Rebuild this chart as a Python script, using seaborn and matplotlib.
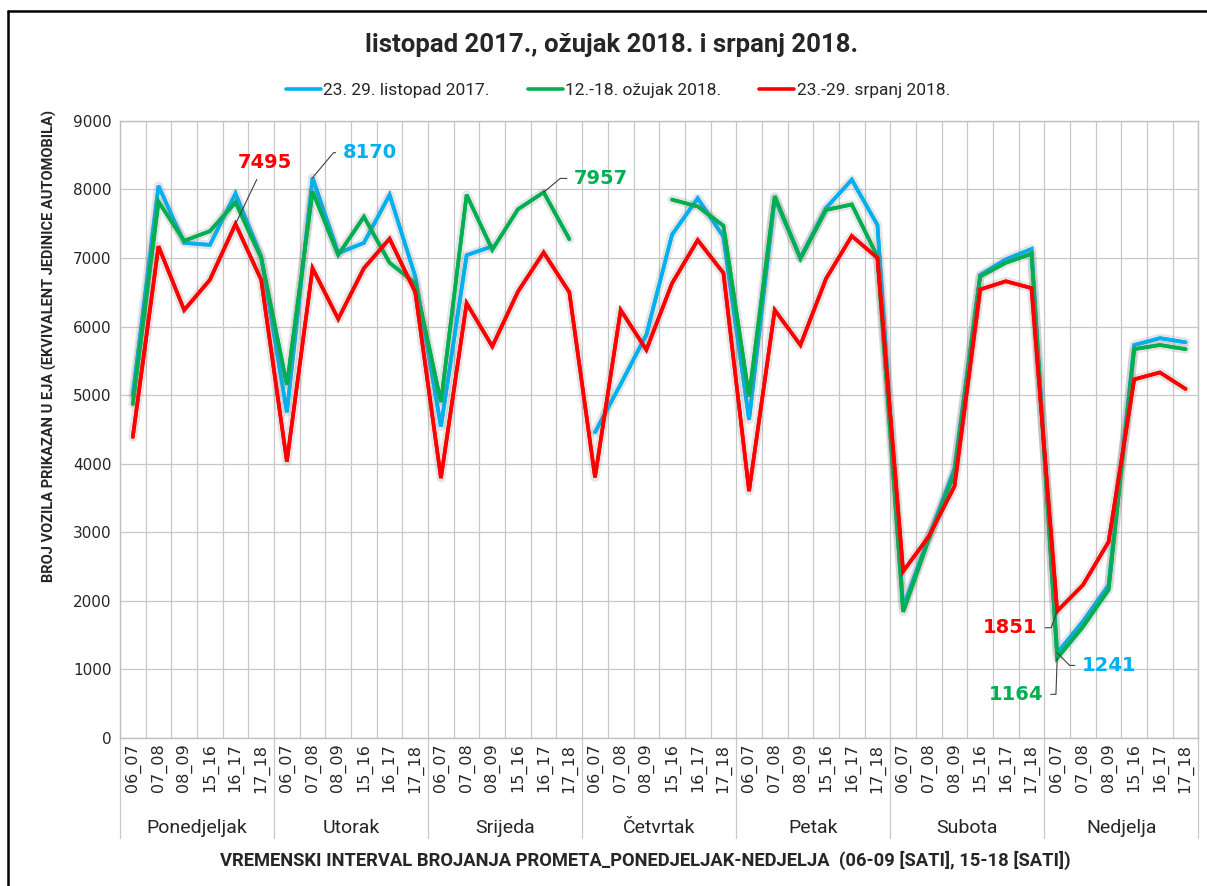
import numpy as np
import pandas as pd
import matplotlib
matplotlib.use("Agg")
import matplotlib.pyplot as plt
import matplotlib.patheffects as pe
from matplotlib.lines import Line2D
from matplotlib import font_manager
import seaborn as sns

# ---- data ----
days = ["Ponedjeljak", "Utorak", "Srijeda", "Četvrtak", "Petak", "Subota", "Nedjelja"]
intervals = ["06_07", "07_08", "08_09", "15_16", "16_17", "17_18"]

listopad_2017 = [
    5000, 8050, 7220, 7190, 7940, 7020,
    4750, 8170, 7070, 7220, 7920, 6730,
    4540, 7040, 7170, np.nan, np.nan, np.nan,
    4460, 5160, 5880, 7340, 7870, 7310,
    4640, 7870, 7000, 7730, 8140, 7480,
    1910, 2930, 3930, 6750, 6980, 7130,
    1241, 1700, 2230, 5730, 5830, 5770,
]
ozujak_2018 = [
    4870, 7820, 7250, 7390, 7810, 7000,
    5150, 7970, 7045, 7600, 6930, 6630,
    4900, 7920, 7120, 7710, 7957, 7275,
    np.nan, np.nan, np.nan, 7850, 7750, 7470,
    4980, 7900, 6990, 7700, 7780, 7020,
    1840, 2900, 3860, 6730, 6930, 7060,
    1164, 1620, 2160, 5670, 5730, 5670,
]
srpanj_2018 = [
    4390, 7170, 6240, 6680, 7495, 6680,
    4030, 6850, 6110, 6850, 7280, 6500,
    3790, 6340, 5710, 6510, 7080, 6500,
    3800, 6240, 5660, 6630, 7260, 6780,
    3600, 6240, 5730, 6700, 7320, 7000,
    2430, 2940, 3670, 6540, 6660, 6560,
    1851, 2230, 2860, 5230, 5330, 5090,
]

series_names = ["23. 29. listopad 2017.", "12.-18. ožujak 2018.", "23.-29. srpanj 2018."]
series_colors = ["#00B0F0", "#00B050", "#FF0000"]

# ---- long table, with a segment id so gaps stay gaps ----
frames = []
for name, vals in zip(series_names, [listopad_2017, ozujak_2018, srpanj_2018]):
    v = pd.Series(vals, dtype=float)
    seg = v.isna().cumsum()
    frames.append(pd.DataFrame({
        "pos": np.arange(len(v)),
        "value": v,
        "series": name,
        "segment": name + "_" + seg.astype(str),
    }))
df = pd.concat(frames, ignore_index=True).dropna()

sns.set_style("white")
avail = {f.name for f in font_manager.fontManager.ttflist}
narrow = "Liberation Sans Narrow" if "Liberation Sans Narrow" in avail else "Roboto"
plt.rcParams["font.family"] = [narrow, "DejaVu Sans"]

fig = plt.figure(figsize=(12.07, 8.86), dpi=100)
ax = fig.add_axes([0.0994, 0.167, 0.8935, 0.6967])

glow = [pe.withStroke(linewidth=6.5, foreground="#808080", alpha=0.2,
                      joinstyle="round", capstyle="round"), pe.Normal()]
sns.lineplot(data=df, x="pos", y="value", hue="series", units="segment",
             estimator=None, palette=dict(zip(series_names, series_colors)),
             hue_order=series_names, linewidth=2.6, legend=False, ax=ax,
             sort=True)
for ln in ax.lines:
    ln.set_path_effects(glow)
    ln.set_solid_joinstyle("miter")

n = len(days) * len(intervals)
ax.set_xlim(-0.5, n - 0.5)
ax.set_ylim(0, 9000)
ax.set_yticks(np.arange(0, 9001, 1000))
ax.set_yticklabels([str(t) for t in range(0, 9001, 1000)],
                   fontsize=11, family="DejaVu Sans")
ax.set_xticks(np.arange(n))
ax.set_xticklabels(intervals * len(days), rotation=90, fontsize=11.5,
                   family="DejaVu Sans")
ax.set_xticks(np.arange(-0.5, n, 1), minor=True)
ax.tick_params(axis="both", which="both", length=0)
ax.tick_params(axis="x", pad=4)
ax.tick_params(axis="y", pad=6)
ax.grid(True, which="minor", axis="x", color="#C8C8C8", lw=0.9)
ax.grid(True, which="major", axis="y", color="#C8C8C8", lw=0.9)
ax.grid(False, which="major", axis="x")
ax.set_axisbelow(True)
for s in ax.spines.values():
    s.set_color("#C0C0C0")
    s.set_linewidth(1.0)
ax.set_xlabel("")
ax.set_ylabel("BROJ VOZILA PRIKAZAN U EJA (EKVIVALENT JEDINICE AUTOMOBILA)",
              fontsize=10.5, fontweight="bold", labelpad=10)
ax.yaxis.set_label_coords(-0.058, 0.635)

# ---- day group row under the interval labels ----
trans = ax.get_xaxis_transform()
for k in range(len(days) + 1):
    ax.add_line(Line2D([k * 6 - 0.5, k * 6 - 0.5], [0, -0.162], transform=trans,
                       color="#C8C8C8", lw=0.9, clip_on=False))
for k, d in enumerate(days):
    ax.text(k * 6 + 2.5, -0.146, d, transform=trans, ha="center", va="center",
            fontsize=14)

# ---- annotations ----
def note(idx, val, text, color, dx, dy, ha, conn):
    ax.annotate(text, xy=(idx, val), xytext=(dx, dy), textcoords="offset points",
                ha=ha, va="center", color=color, fontsize=14, fontweight="bold",
                family="DejaVu Sans",
                arrowprops=dict(arrowstyle="-", color="#404040", lw=0.8,
                                shrinkA=3, shrinkB=0, connectionstyle=conn))

note(4, 7495, "7495", "#FF0000", 21, 44, "center", "arc3")
note(7, 8170, "8170", "#00B0F0", 22, 18, "left", "angle,angleA=0,angleB=50,rad=0")
note(16, 7957, "7957", "#00B050", 22, 10, "left", "angle,angleA=0,angleB=40,rad=0")
note(36, 1851, "1851", "#FF0000", -14, -12, "right", "angle,angleA=0,angleB=70,rad=0")
note(36, 1241, "1241", "#00B0F0", 18, -9, "left", "angle,angleA=0,angleB=135,rad=0")
note(36, 1164, "1164", "#00B050", -10, -26, "right", "angle,angleA=0,angleB=88,rad=0")

# ---- title, legend, axis title ----
fig.text(0.507, 0.949, "listopad 2017., ožujak 2018. i srpanj 2018.", ha="center",
         va="center", fontsize=18.5, fontweight="bold")
handles = [Line2D([], [], color=c, lw=2.6) for c in series_colors]
fig.legend(handles, series_names, loc="center", bbox_to_anchor=(0.512, 0.898),
           ncol=3, frameon=False, fontsize=12.5, handlelength=2.0,
           handletextpad=0.15, columnspacing=2.2)
fig.text(0.535, 0.029,
         "VREMENSKI INTERVAL BROJANJA PROMETA_PONEDJELJAK-NEDJELJA  (06-09 [SATI], 15-18 [SATI])",
         ha="center", va="center", fontsize=13.2, fontweight="bold")

# outer frame (left and top edges visible in the reference)
fig.add_artist(Line2D([0.0066, 0.0066], [0, 0.9876], transform=fig.transFigure,
                      color="black", lw=1.8))
fig.add_artist(Line2D([0.0066, 1.0], [0.9876, 0.9876], transform=fig.transFigure,
                      color="black", lw=1.8))

fig.savefig("out.png", dpi=100)
